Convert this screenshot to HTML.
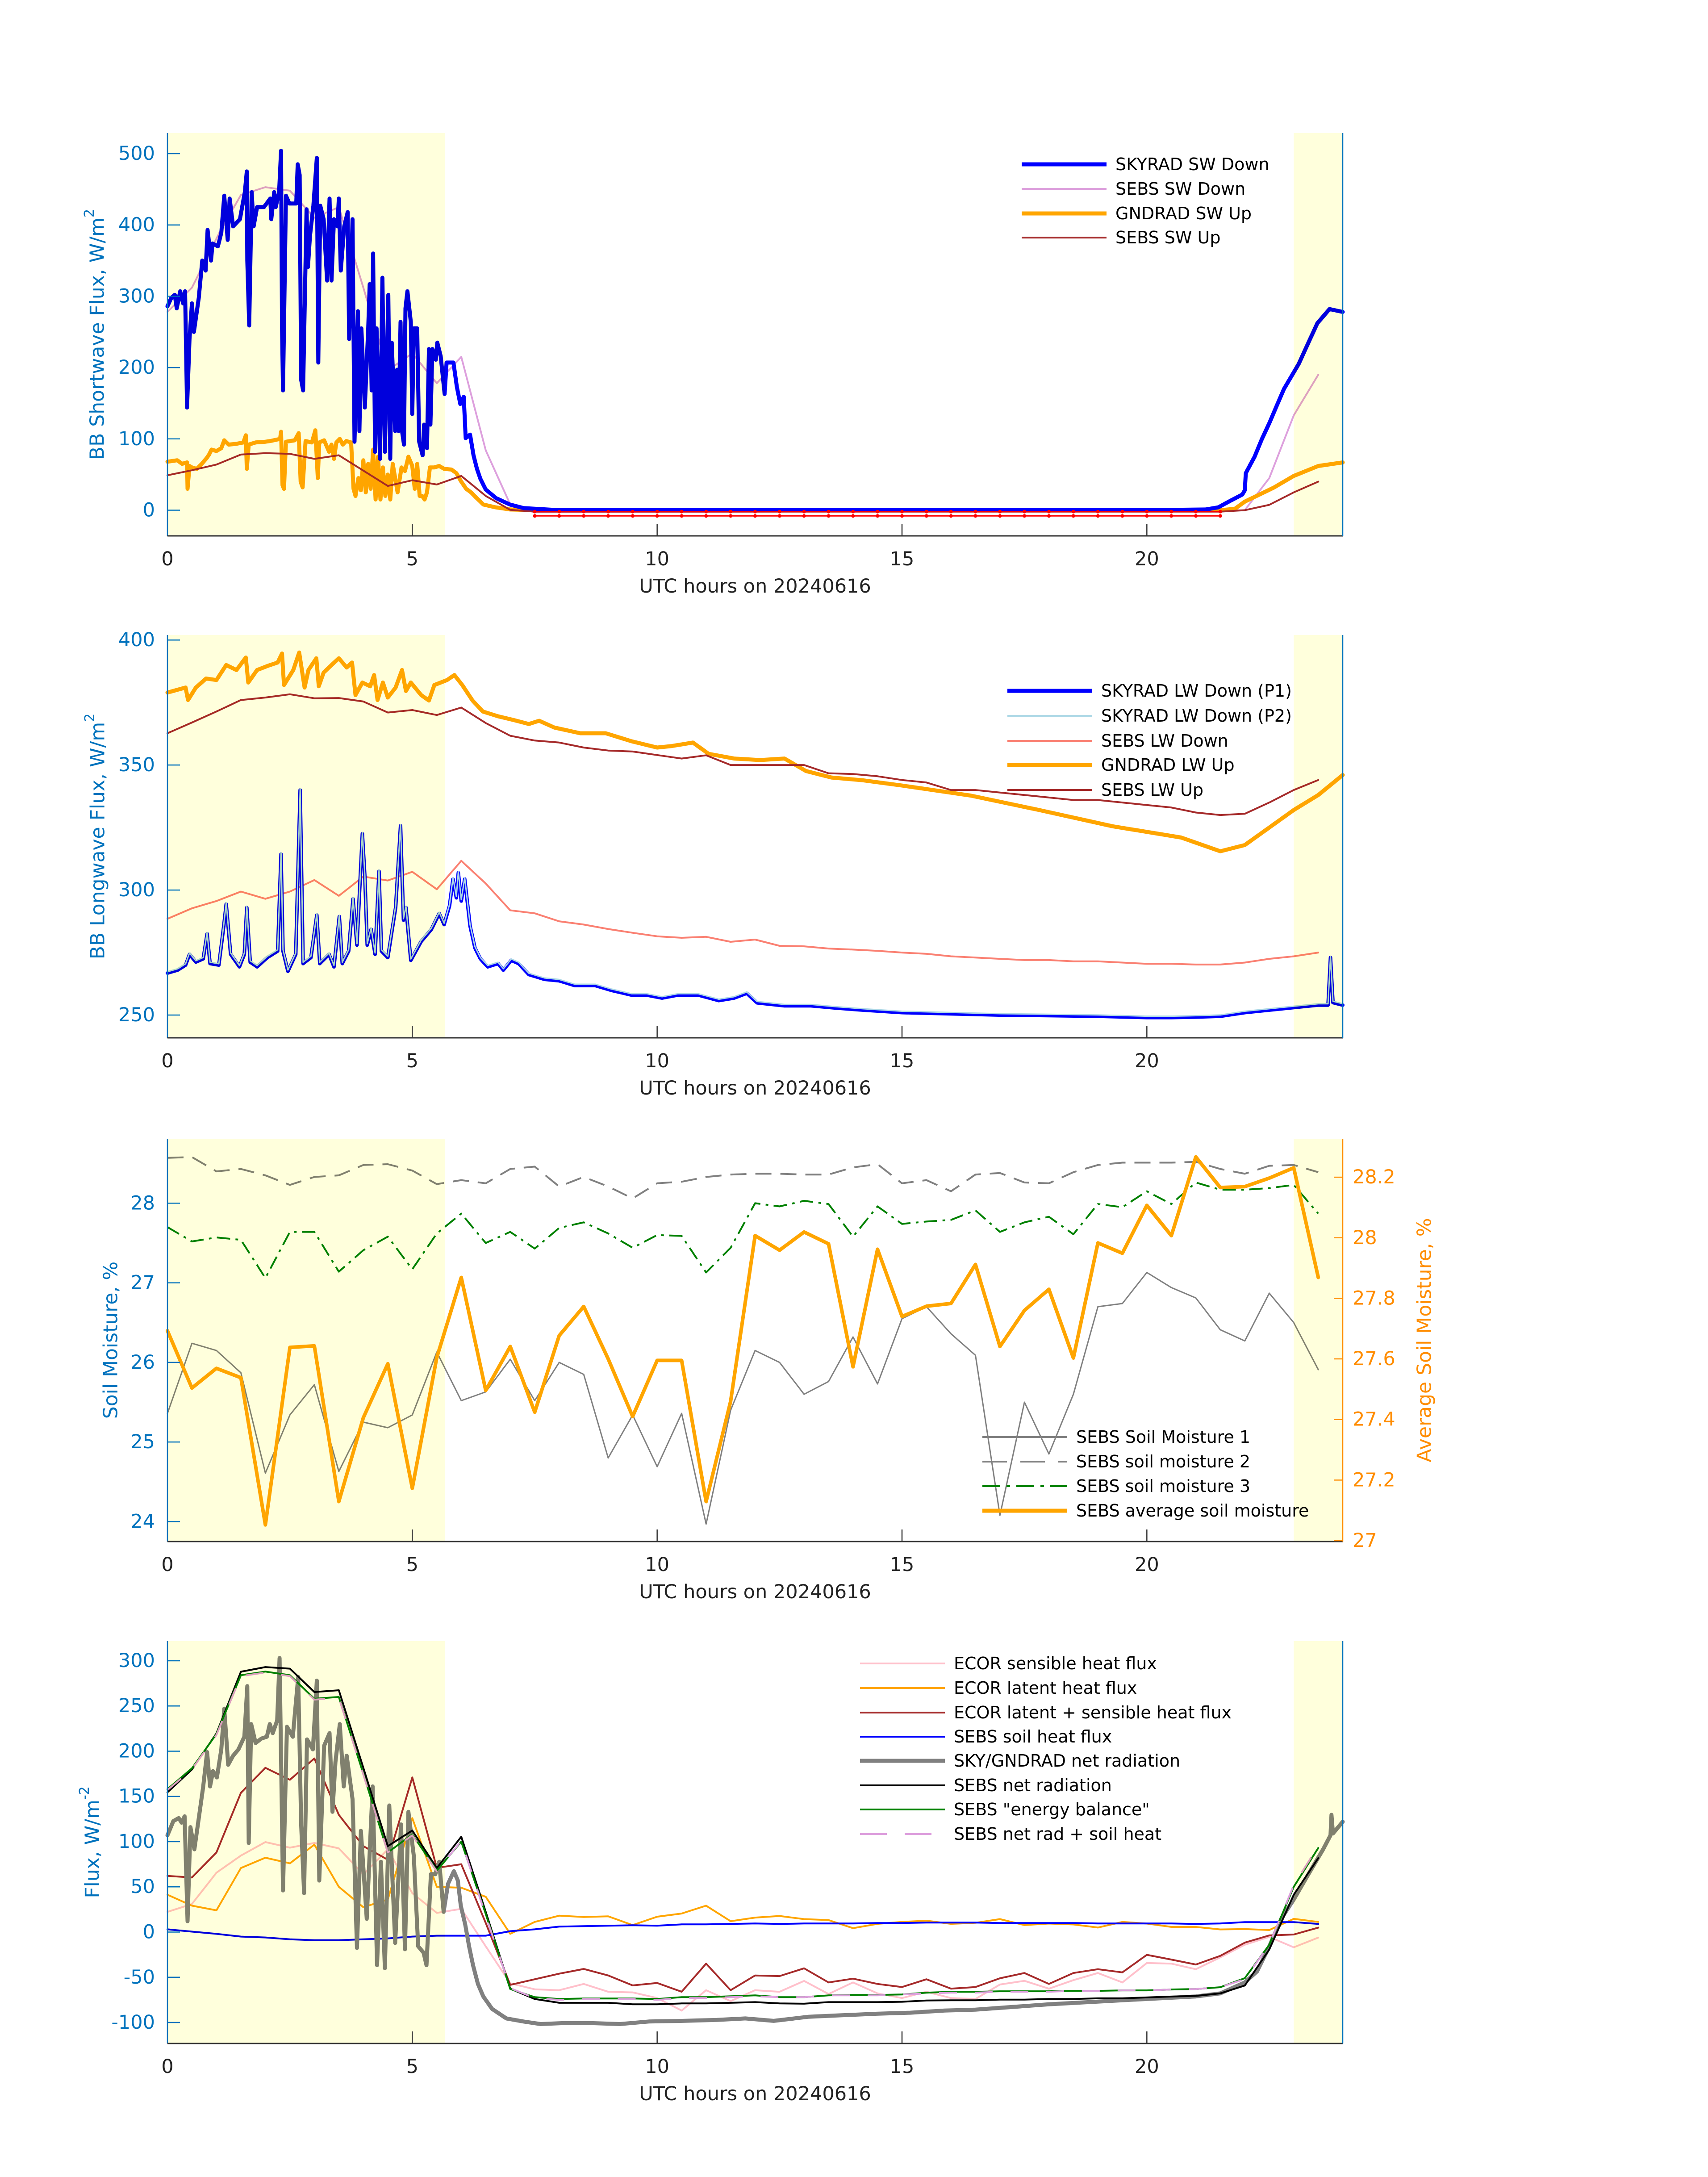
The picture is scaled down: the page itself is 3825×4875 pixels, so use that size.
<!DOCTYPE html>
<html><head><meta charset="utf-8"><style>
html,body{margin:0;padding:0;background:#fff;}
svg{display:block;font-family:"DejaVu Sans","Liberation Sans",sans-serif;}
</style></head><body>
<svg id="chart" width="3825" height="4875" viewBox="0 0 3825 4875" xmlns="http://www.w3.org/2000/svg"></svg>
<script>
// ---------- Panel 1 data ----------
const skySwT=[0,0.08,0.15,0.19,0.26,0.32,0.36,0.40,0.45,0.50,0.54,0.64,0.71,0.78,0.82,0.89,0.92,1.03,1.10,1.16,1.23,1.27,1.34,1.48,1.58,1.62,1.63,1.67,1.72,1.76,1.83,1.97,2.10,2.12,2.18,2.21,2.28,2.32,2.34,2.36,2.42,2.49,2.63,2.66,2.70,2.73,2.77,2.84,2.87,2.91,2.98,3.05,3.08,3.12,3.19,3.26,3.31,3.35,3.40,3.47,3.50,3.54,3.61,3.68,3.71,3.78,3.82,3.89,3.92,3.96,4.03,4.10,4.13,4.17,4.20,4.24,4.27,4.34,4.39,4.44,4.48,4.51,4.55,4.58,4.65,4.69,4.72,4.76,4.79,4.83,4.86,4.90,4.97,5.00,5.03,5.10,5.14,5.21,5.24,5.30,5.34,5.37,5.41,5.48,5.51,5.58,5.66,5.70,5.84,5.91,5.98,6.05,6.09,6.18,6.25,6.32,6.39,6.50,6.71,6.99,7.27,8,10,12,14,16,18,20,21.2,21.46,21.7,21.95,22.0,22.02,22.2,22.35,22.5,22.63,22.8,23.1,23.3,23.48,23.73,24];
const skySwV=[286,298,302,283,307,290,307,144,240,290,250,298,350,336,393,350,374,370,389,441,379,437,398,408,446,475,350,259,446,398,425,425,437,408,446,425,446,504,255,168,441,430,430,485,470,183,168,422,341,384,427,494,207,427,408,322,437,322,408,398,437,336,398,418,240,408,96,279,111,255,144,255,317,168,360,82,255,72,326,82,207,302,72,235,111,197,111,264,111,92,283,307,264,135,255,255,96,77,120,87,226,120,226,211,235,216,163,207,207,173,149,159,101,106,77,58,44,29,17,8,3,0,0,0,0,0,0,0,1,4,13,22,28,52,75,100,122,143,170,205,235,262,282,278];
const sebsSwDownT=[0,0.5,1.06,1.5,2,2.5,3,3.5,4,4.5,5,5.5,6,6.5,7,7.5,22,22.5,23,23.5];
const sebsSwDownV=[278,312,389,442,453,448,410,425,312,196,220,178,215,84,8,-3,0,45,133,190];
const gndSwT=[0,0.2,0.3,0.4,0.41,0.45,0.5,0.6,0.7,0.8,0.85,0.9,1.0,1.1,1.16,1.25,1.4,1.55,1.6,1.62,1.66,1.8,2.0,2.1,2.3,2.32,2.35,2.38,2.42,2.6,2.68,2.72,2.76,2.82,2.95,3.02,3.07,3.1,3.2,3.3,3.35,3.4,3.45,3.52,3.58,3.65,3.75,3.8,3.84,3.9,3.95,4.0,4.05,4.1,4.15,4.2,4.25,4.3,4.35,4.4,4.45,4.5,4.55,4.6,4.7,4.78,4.85,4.92,5.0,5.05,5.1,5.15,5.2,5.25,5.3,5.36,5.45,5.55,5.65,5.8,5.9,6.0,6.1,6.2,6.3,6.45,6.7,7.0,7.5,10,14,18,21.5,21.8,22.0,22.3,22.6,23.0,23.5,24];
const gndSwV=[68,70,65,67,30,62,60,58,65,73,78,85,83,87,98,92,93,95,105,58,92,95,96,97,100,110,35,30,96,98,108,40,32,97,95,112,45,95,98,82,92,72,95,100,92,97,95,30,20,45,28,70,25,65,30,85,15,75,15,60,20,50,15,65,25,60,55,75,62,30,65,20,20,15,25,60,60,62,58,57,52,40,30,25,18,8,4,1,0,0,0,0,0,2,12,22,32,48,62,67];
const sebsSwUpT=[0,0.5,1,1.5,2,2.5,3,3.5,4.5,5,5.5,6,6.5,7,7.5,21.5,22,22.5,23,23.5];
const sebsSwUpV=[49,56,64,78,80,79,72,77,34,42,36,48,20,0.5,-2,-2,0,7.5,25,40];
const nightT=[7.5,8,8.5,9,9.5,10,10.5,11,11.5,12,12.5,13,13.5,14,14.5,15,15.5,16,16.5,17,17.5,18,18.5,19,19.5,20,20.5,21,21.5];
const nightDownV=[-8,-8,-8,-8,-8,-8,-8,-8,-8,-8,-8,-8,-8,-8,-8,-8,-8,-8,-8,-8,-8,-8,-8,-8,-8,-8,-8,-8,-8];
const nightUpV=[-2,-2,-2,-2,-2,-2,-2,-2,-2,-2,-2,-2,-2,-2,-2,-2,-2,-2,-2,-2,-2,-2,-2,-2,-2,-2,-2,-2,-2];
const swTicks=[0,100,200,300,400,500];

// ---------- Panel 2 data ----------
const gndLwT=[0,0.37,0.42,0.58,0.79,1.0,1.2,1.41,1.6,1.65,1.83,2.04,2.25,2.34,2.38,2.57,2.69,2.8,2.88,3.04,3.09,3.19,3.35,3.5,3.66,3.77,3.84,3.98,4.14,4.22,4.29,4.4,4.5,4.66,4.79,4.87,4.97,5.18,5.34,5.45,5.71,5.86,6.02,6.23,6.44,6.75,7.07,7.38,7.59,7.9,8.43,8.95,9.48,10.0,10.3,10.73,11.05,11.57,12.1,12.6,13.04,13.56,14.2,15,16.4,17.8,19.3,20.7,21.5,22.0,22.5,23.0,23.5,24];
const gndLwV=[379,381,376,381,384.6,384,390,388,393,383,388,389.6,391,394.6,382,388,395,381,388,392.7,381.5,387,390,392.7,389,391,378,383,381.5,386,376,383,377,381,388,379.6,383,378,375.8,382,384,386,382,375.8,371.4,369.5,368,366.4,367.7,365,362.7,362.7,359.5,357,357.6,359,354.5,352.6,352,352.6,347.6,345,343.9,341.8,337.8,332,325.5,321,315.5,318,325,332,338,346];
const sebsLwUpT=[0,0.5,1,1.5,2,2.5,3,3.5,4,4.5,5,5.5,6,6.5,7,7.5,8,8.5,9,9.5,10,10.5,11,11.5,12,12.5,13,13.5,14,14.5,15,15.5,16,16.5,17,17.5,18,18.5,19,19.5,20,20.5,21,21.5,22,22.5,23,23.5];
const sebsLwUpV=[362.7,367,371.4,376,377,378.3,376.7,376.8,375.4,371,372,370,373,366.8,361.7,359.8,359,357,355.8,355.4,354,352.6,353.9,350,350,350,350,346.7,346.4,345.5,344,343,340,340,339,338,337,336,336,335,334,333,331,330,330.5,335,340,344];
const sebsLwDownV=[288.5,292.7,295.6,299.4,296.5,299.4,304,297.7,305.4,303.8,307.3,300.3,311.7,302.6,291.9,290.7,287.5,286.2,284.4,282.9,281.5,280.9,281.3,279.3,280.2,277.7,277.5,276.6,276.2,275.7,275,274.5,273.5,273,272.5,272,272,271.5,271.5,271,270.5,270.5,270.2,270.2,271,272.5,273.5,275];
const skyLwT=[0,0.21,0.37,0.45,0.58,0.73,0.81,0.87,1.05,1.15,1.2,1.29,1.47,1.57,1.62,1.69,1.83,2.04,2.25,2.32,2.36,2.46,2.62,2.71,2.77,2.93,3.05,3.11,3.3,3.4,3.51,3.57,3.7,3.79,3.87,3.98,4.03,4.08,4.16,4.24,4.32,4.37,4.5,4.66,4.76,4.82,4.87,4.97,5.18,5.39,5.55,5.65,5.76,5.83,5.9,5.94,6.0,6.07,6.18,6.28,6.39,6.54,6.75,6.86,7.02,7.17,7.38,7.7,8.0,8.32,8.74,9.06,9.48,9.79,10.1,10.42,10.84,11.26,11.57,11.83,12.04,12.6,13.14,13.66,14.2,15,16,17,18,19,20,20.5,21,21.5,22,22.5,23,23.5,23.7,23.75,23.8,24];
const skyLwV=[266.8,268,270,274.3,271.2,272.5,282.5,270.6,270,285.6,294.4,274.3,269.3,274.3,293,271.2,269.3,273,275.6,314.4,275.6,267.5,274.3,340,270.6,273,290,270.6,274.3,269.3,289.4,270.6,275.6,296.5,278,322.5,305.6,278,284.3,274.3,307.5,275.6,273,293,325.7,288,293,271.9,279.4,284.3,290.6,286.2,293.7,304.4,296.9,306.9,295.6,304.4,285.6,276.8,272.5,269.3,270.6,268,271.9,270.6,266.2,264.3,263.7,261.8,261.8,259.9,258,258,256.8,258,258,255.8,256.8,258.7,254.9,253.7,253.7,252.8,252,251,250.5,250,249.8,249.5,249,249,249.2,249.5,251,252,253,254,254,273,255,254];
const lwTicks=[250,300,350,400];

// ---------- Panel 3 data ----------
const smT=[0,0.5,1,1.5,2,2.5,3,3.5,4,4.5,5,5.5,6,6.5,7,7.5,8,8.5,9,9.5,10,10.5,11,11.5,12,12.5,13,13.5,14,14.5,15,15.5,16,16.5,17,17.5,18,18.5,19,19.5,20,20.5,21,21.5,22,22.5,23,23.5];
const sm1=[25.36,26.24,26.15,25.87,24.61,25.34,25.72,24.63,25.25,25.18,25.34,26.13,25.52,25.63,26.04,25.52,26.0,25.85,24.8,25.34,24.69,25.36,23.97,25.4,26.15,26.0,25.6,25.76,26.32,25.73,26.55,26.7,26.36,26.09,24.08,25.5,24.85,25.6,26.7,26.74,27.13,26.94,26.81,26.41,26.27,26.87,26.5,25.91];
const sm2=[28.57,28.58,28.4,28.43,28.35,28.23,28.33,28.35,28.48,28.49,28.41,28.24,28.29,28.25,28.43,28.46,28.21,28.33,28.21,28.06,28.25,28.27,28.33,28.36,28.37,28.37,28.36,28.36,28.45,28.49,28.25,28.29,28.15,28.36,28.38,28.26,28.25,28.39,28.48,28.51,28.51,28.51,28.52,28.43,28.37,28.47,28.48,28.39];
const sm3=[27.7,27.52,27.57,27.54,27.06,27.64,27.64,27.14,27.41,27.58,27.17,27.62,27.87,27.5,27.64,27.43,27.69,27.76,27.62,27.44,27.6,27.59,27.13,27.44,28.0,27.96,28.03,27.99,27.58,27.96,27.74,27.77,27.79,27.91,27.64,27.76,27.83,27.61,27.99,27.95,28.15,27.99,28.26,28.17,28.17,28.19,28.23,27.87];
const smAvg=[27.693,27.504,27.569,27.538,27.052,27.638,27.643,27.129,27.406,27.584,27.173,27.605,27.869,27.496,27.641,27.424,27.677,27.773,27.6,27.41,27.595,27.595,27.129,27.46,28.007,27.959,28.019,27.98,27.574,27.962,27.74,27.774,27.783,27.912,27.641,27.76,27.83,27.603,27.983,27.949,28.107,28.007,28.267,28.166,28.169,28.197,28.231,27.869];
const smTicks=[24,25,26,27,28];
const smAvgTicks=[27,27.2,27.4,27.6,27.8,28,28.2];

// ---------- Panel 4 data ----------
const fxT=smT;
const sensible=[22.3,31,65.6,84.6,99.5,93.3,98.5,92.6,63.8,91.5,43,21.2,25.7,-15.8,-56.7,-63.3,-64.3,-57.4,-66,-66.7,-73,-86.8,-64.3,-76.4,-64.3,-66,-54,-68.5,-55.7,-67.8,-73,-66,-73,-74,-58,-53.9,-62.6,-53.2,-45.3,-55.7,-34.2,-34.9,-41.1,-28,-14,-5.4,-16.9,-6.1];
const latent=[41.3,29.2,24,70.8,82.2,76,96.7,50,27.5,36,126,50,49,39,-2,11.2,18.1,16.7,17.4,7.7,17,20.5,29.2,12,16,17.8,14.3,13.3,4.3,9.1,11.2,12.6,9.1,10.2,14.3,7.7,9.4,8.4,5,11.2,9.4,5.7,5.7,2.9,3.3,2.2,14.6,11.2];
const latSens=[62.1,60.4,88,153.9,181.6,168.4,192,129.6,95,80,171,71,75,10,-58.4,-52.2,-46,-40.8,-48,-59,-56.3,-66,-34.9,-64.3,-48,-48.7,-40.1,-55.7,-51.5,-57.4,-60.8,-52.2,-62.6,-60.8,-51.1,-45.3,-57.4,-45.3,-41.1,-44.6,-25.2,-30.4,-35.9,-26.3,-11.7,-3.7,-2.7,4.9];
const soilHeat=[3,0.5,-2,-5,-6,-8,-9,-9,-8,-7,-5,-4,-4,-4,1,3,6,6.5,7,7.5,7,8.5,8.5,9,9.5,9,9.5,9.5,9.5,10,10,10.5,10.5,10.5,10,10,10,10,9.5,9.5,9.5,9.5,9,9.5,11,11,11,9];
const sebsNet=[154.5,179.8,219.7,287.9,293,291.3,265.4,267.4,181.6,95,112.3,70.8,105.4,22.3,-62.6,-74,-78.2,-78.2,-78.2,-79.9,-79.9,-78.9,-78.9,-78.2,-77.5,-78.9,-79.2,-77.5,-77.5,-77.5,-77.1,-75.7,-75.4,-75.4,-74.7,-74.7,-74,-74,-73.3,-73.3,-72.3,-71.3,-70.6,-67.8,-59.1,-19.3,41.3,81.8];
const energyBal=[158,181,219,284,288,284,258,260,175,88,108,68,100,20,-63,-72,-74,-73.5,-73.5,-73.5,-74,-72,-72,-71,-70,-72,-72,-70,-69.5,-69.5,-69,-67,-66,-66,-65.5,-65.5,-65.5,-65,-65,-64.5,-64.5,-63.5,-63,-61,-51,-14,50,93];
const netPlusSoil=[157,180,218,283,287,283,257,259,174,88,107,67,101,18,-62,-73,-75,-74,-74,-74,-75,-73,-73,-72,-71,-72,-72,-70,-70,-70,-69,-68,-67,-67,-66,-66,-66,-65,-65,-64.5,-64.5,-63.5,-63,-61,-52,-14,52,95];
const skyNetT=[0,0.12,0.23,0.29,0.35,0.41,0.47,0.55,0.64,0.73,0.81,0.87,0.93,1.01,1.1,1.16,1.24,1.34,1.45,1.57,1.63,1.66,1.71,1.8,1.92,2.03,2.09,2.15,2.24,2.29,2.36,2.44,2.56,2.67,2.73,2.79,2.85,2.97,3.05,3.1,3.2,3.31,3.37,3.43,3.52,3.6,3.66,3.78,3.87,3.95,4.07,4.19,4.28,4.36,4.44,4.53,4.65,4.77,4.85,4.92,5.03,5.12,5.23,5.29,5.38,5.47,5.55,5.64,5.73,5.85,5.93,5.99,6.08,6.16,6.24,6.34,6.45,6.63,6.92,7.27,7.62,8.08,8.66,9.24,9.83,10.52,11.22,11.8,12.38,13.08,13.78,14.48,15.17,15.87,16.5,18,19.5,21,21.5,22,22.25,22.5,22.75,23,23.3,23.6,23.75,23.77,23.8,24];
const skyNetV=[107,122.7,126,121,128,12,116,91.5,126,161,199,161,178,171,202,247,185,195,202,216,272,98.5,230,209,214,216,230,220,234,303,46,227,216,282,119,43,213,202,278,57,206,220,133,188,230,161,195,147,-17.6,112,14.6,161,-36.6,77.7,-40,140,-12,119,-19,133,84.6,-15.8,-22.8,-36.6,64,64,77.7,22.3,53.4,67.3,57,29.2,8.4,-15.8,-36.6,-57.4,-71.2,-85,-95.5,-98.9,-101.7,-100.7,-100.7,-101.7,-98.9,-98.2,-97.2,-95.5,-98.2,-93.7,-92,-90.3,-89.2,-86.8,-85.8,-79.9,-75.4,-71.2,-67.8,-55.7,-43.5,-15.8,15.3,36,64,91.5,107,129.6,109,122];
const fluxTicks=[-100,-50,0,50,100,150,200,250,300];
const xTicks=[0,5,10,15,20];

// ---------- layout ----------
const NS='http://www.w3.org/2000/svg';
const svg=document.getElementById('chart');
const X0=375,X1=3007;
function xs(h){return X0+h*(X1-X0)/24;}
function mkY(top,bot,lo,hi){return v=>bot-(v-lo)*(bot-top)/(hi-lo);}
function el(tag,attrs,parent){const e=document.createElementNS(NS,tag);for(const k in attrs)e.setAttribute(k,attrs[k]);(parent||svg).appendChild(e);return e;}
function line(ts,vs,ys,style,parent,name){
  let d='';
  for(let i=0;i<ts.length;i++){d+=(i?'L':'M')+xs(ts[i]).toFixed(1)+','+ys(vs[i]).toFixed(1);}
  const p=el('path',{d:d,fill:'none','stroke-linejoin':'round','stroke-linecap':'round'},parent);
  for(const k in style)p.setAttribute(k,style[k]);
  
  
  return p;
}
function txt(x,y,s,opts,name){
  const t=el('text',{x:x,y:y,'font-size':opts.size||43,fill:opts.fill||'#222','text-anchor':opts.anchor||'middle','dominant-baseline':'central'});
  t.textContent=s;
  
  
  return t;
}
const BLUE='#0072bd';
function shade(top,bot){
  const sh=el('rect',{x:xs(0),y:top,width:xs(5.67)-xs(0),height:bot-top,fill:'#ffffdc','style':'mix-blend-mode:multiply'});
  
  
  const sh2=el('rect',{x:xs(23),y:top,width:xs(24)-xs(23),height:bot-top,fill:'#ffffdc','style':'mix-blend-mode:multiply'});
  
  
}
function axes(top,bot,ys,ticks,pname,rightColor){
  const g=el('g',{});
  
  
  el('line',{x1:X0,y1:top,x2:X0,y2:bot,stroke:BLUE,'stroke-width':2.5},g);
  el('line',{x1:X0,y1:bot,x2:X1,y2:bot,stroke:'#333','stroke-width':3},g);
  el('line',{x1:X1,y1:top,x2:X1,y2:bot,stroke:rightColor||BLUE,'stroke-width':2.5},g);
  ticks.forEach(v=>{
    const y=ys(v);
    el('line',{x1:X0,y1:y,x2:X0+28,y2:y,stroke:BLUE,'stroke-width':2.5},g);
    txt(X0-28,y,String(v),{anchor:'end',fill:BLUE},'y-tick-label');
  });
  xTicks.forEach(h=>{
    const x=xs(h);
    if(h>0)el('line',{x1:x,y1:bot,x2:x,y2:bot-27,stroke:'#333','stroke-width':2.5},g);
    txt(x,bot+52,String(h),{},'x-tick-label');
  });
  txt((X0+X1)/2,bot+113,'UTC hours on 20240616',{},'x-axis-title');
}
function ylabel(x,y,main,sup,color,name){
  const t=el('text',{x:x,y:y,'font-size':44,fill:color,'text-anchor':'middle','dominant-baseline':'central',transform:'rotate(-90 '+x+' '+y+')'});
  
  
  t.appendChild(document.createTextNode(main));
  if(sup){const ts=el('tspan',{'baseline-shift':'super','font-size':30},t);ts.textContent=sup;}
}
function legend(x,rows,name){
  const g=el('g',{});
  
  
  rows.forEach(r=>{
    const l=el('line',{x1:x,y1:r.y,x2:x+190,y2:r.y,stroke:r.c,'stroke-width':r.w||4,'stroke-dasharray':r.dash||'none'},g);
    
    
    const t=txt(x+210,r.y,r.t,{anchor:'start',size:38,fill:'#000'},'legend-entry');
    g.appendChild(t);
  });
}
function grp(name){const g=el('g',{});return g;}

// ---------- Panel 1 ----------
{
  const top=298,bot=1200,ys=mkY(top,bot,-36,528.8);
  const g=grp('shortwave-series');
  line(sebsSwDownT,sebsSwDownV,ys,{stroke:'#dda0dd','stroke-width':4},g,'sebs-sw-down-line');
  line(gndSwT,gndSwV,ys,{stroke:'#ffa500','stroke-width':9},g,'gndrad-sw-up-line');
  line(sebsSwUpT,sebsSwUpV,ys,{stroke:'#a52a2a','stroke-width':4},g,'sebs-sw-up-line');
  line(skySwT,skySwV,ys,{stroke:'#0000ff','stroke-width':9},g,'skyrad-sw-down-line');
  line(nightT,nightDownV,ys,{stroke:'#ff0000','stroke-width':3},g,'sebs-sw-down-night-line');
  line(nightT,nightUpV,ys,{stroke:'#ff0000','stroke-width':3},g,'sebs-sw-up-night-line');
  nightT.forEach((t,i)=>{
    const c1=el('circle',{cx:xs(t),cy:ys(nightDownV[i]),r:4,fill:'#ff0000'},g);
    
    
    const c2=el('circle',{cx:xs(t),cy:ys(nightUpV[i]),r:4,fill:'#ff0000'},g);
    
    
  });
  shade(top,bot);
  axes(top,bot,ys,swTicks,'shortwave-panel');
  ylabel(218,(top+bot)/2,'BB Shortwave Flux, W/m','2',BLUE,'y-axis-title');
  legend(2288,[{y:368,t:'SKYRAD SW Down',c:'#0000ff',w:9},{y:423,t:'SEBS SW Down',c:'#dda0dd'},{y:478,t:'GNDRAD SW Up',c:'#ffa500',w:9},{y:532,t:'SEBS SW Up',c:'#a52a2a'}],'shortwave-legend');
}

// ---------- Panel 2 ----------
{
  const top=1422,bot=2324,ys=mkY(top,bot,240.9,402);
  const g=grp('longwave-series');
  line(sebsLwUpT,sebsLwDownV,ys,{stroke:'#fa8072','stroke-width':4},g,'sebs-lw-down-line');
  line(gndLwT,gndLwV,ys,{stroke:'#ffa500','stroke-width':9},g,'gndrad-lw-up-line');
  line(sebsLwUpT,sebsLwUpV,ys,{stroke:'#a52a2a','stroke-width':4},g,'sebs-lw-up-line');
  line(skyLwT,skyLwV,ys,{stroke:'#0000ff','stroke-width':8},g,'skyrad-lw-down-p1-line');
  line(skyLwT,skyLwV,ys,{stroke:'#add8e6','stroke-width':3,transform:'translate(0,-3)'},g,'skyrad-lw-down-p2-line');
  shade(top,bot);
  axes(top,bot,ys,lwTicks,'longwave-panel');
  ylabel(219,(top+bot)/2,'BB Longwave Flux, W/m','2',BLUE,'y-axis-title');
  legend(2256,[{y:1547,t:'SKYRAD LW Down (P1)',c:'#0000ff',w:9},{y:1603,t:'SKYRAD LW Down (P2)',c:'#add8e6'},{y:1659,t:'SEBS LW Down',c:'#fa8072'},{y:1713,t:'GNDRAD LW Up',c:'#ffa500',w:9},{y:1769,t:'SEBS LW Up',c:'#a52a2a'}],'longwave-legend');
}

// ---------- Panel 3 ----------
{
  const top=2550,bot=3452,ys=mkY(top,bot,23.75,28.81),yr=mkY(top,bot,26.997,28.327);
  const g=grp('soil-moisture-series');
  line(smT,sm1,ys,{stroke:'#808080','stroke-width':3},g,'sebs-soil-moisture-1-line');
  line(smT,sm2,ys,{stroke:'#808080','stroke-width':4,'stroke-dasharray':'36 20','stroke-linecap':'butt'},g,'sebs-soil-moisture-2-line');
  line(smT,sm3,ys,{stroke:'#008000','stroke-width':4,'stroke-dasharray':'30 12 6 12','stroke-linecap':'butt'},g,'sebs-soil-moisture-3-line');
  line(smT,smAvg,yr,{stroke:'#ffa500','stroke-width':8},g,'sebs-average-soil-moisture-line');
  shade(top,bot);
  axes(top,bot,ys,smTicks,'soil-moisture-panel','#ff8c00');
  smAvgTicks.forEach(v=>{
    const y=yr(v);
    el('line',{x1:X1,y1:y,x2:X1-20,y2:y,stroke:'#ff8c00','stroke-width':2.5});
    txt(X1+22,y,String(v),{anchor:'start',fill:'#ff8c00'},'right-y-tick-label');
  });
  ylabel(248,(top+bot)/2,'Soil Moisture, %',null,BLUE,'y-axis-title');
  ylabel(3190,(top+bot)/2,'Average Soil Moisture, %',null,'#ff8c00','right-y-axis-title');
  legend(2200,[{y:3218,t:'SEBS Soil Moisture 1',c:'#808080'},{y:3273,t:'SEBS soil moisture 2',c:'#808080',dash:'55 30'},{y:3328,t:'SEBS soil moisture 3',c:'#008000',dash:'40 14 8 14'},{y:3383,t:'SEBS average soil moisture',c:'#ffa500',w:9}],'soil-moisture-legend');
}

// ---------- Panel 4 ----------
{
  const top=3675,bot=4576,ys=mkY(top,bot,-123.2,321.7);
  const g=grp('energy-flux-series');
  line(fxT,sensible,ys,{stroke:'#ffc0cb','stroke-width':4},g,'ecor-sensible-heat-line');
  line(fxT,latent,ys,{stroke:'#ffa500','stroke-width':4},g,'ecor-latent-heat-line');
  line(fxT,latSens,ys,{stroke:'#a52a2a','stroke-width':4},g,'ecor-latent-plus-sensible-line');
  line(fxT,soilHeat,ys,{stroke:'#0000ff','stroke-width':4},g,'sebs-soil-heat-flux-line');
  line(skyNetT,skyNetV,ys,{stroke:'#808080','stroke-width':9},g,'sky-gndrad-net-radiation-line');
  line(fxT,sebsNet,ys,{stroke:'#000000','stroke-width':4},g,'sebs-net-radiation-line');
  line(fxT,energyBal,ys,{stroke:'#008000','stroke-width':4},g,'sebs-energy-balance-line');
  line(fxT,netPlusSoil,ys,{stroke:'#dda0dd','stroke-width':4,'stroke-dasharray':'40 40','stroke-linecap':'butt'},g,'sebs-net-rad-plus-soil-heat-line');
  shade(top,bot);
  axes(top,bot,ys,fluxTicks,'energy-flux-panel');
  ylabel(207,(top+bot)/2,'Flux, W/m','-2',BLUE,'y-axis-title');
  legend(1926,[{y:3725,t:'ECOR sensible heat flux',c:'#ffc0cb'},{y:3780,t:'ECOR latent heat flux',c:'#ffa500'},{y:3835,t:'ECOR latent + sensible heat flux',c:'#a52a2a'},{y:3889,t:'SEBS soil heat flux',c:'#0000ff'},{y:3943,t:'SKY/GNDRAD net radiation',c:'#808080',w:9},{y:3998,t:'SEBS net radiation',c:'#000000'},{y:4052,t:'SEBS "energy balance"',c:'#008000'},{y:4107,t:'SEBS net rad + soil heat',c:'#dda0dd',dash:'60 40'}],'energy-flux-legend');
}
</script>
</body></html>
